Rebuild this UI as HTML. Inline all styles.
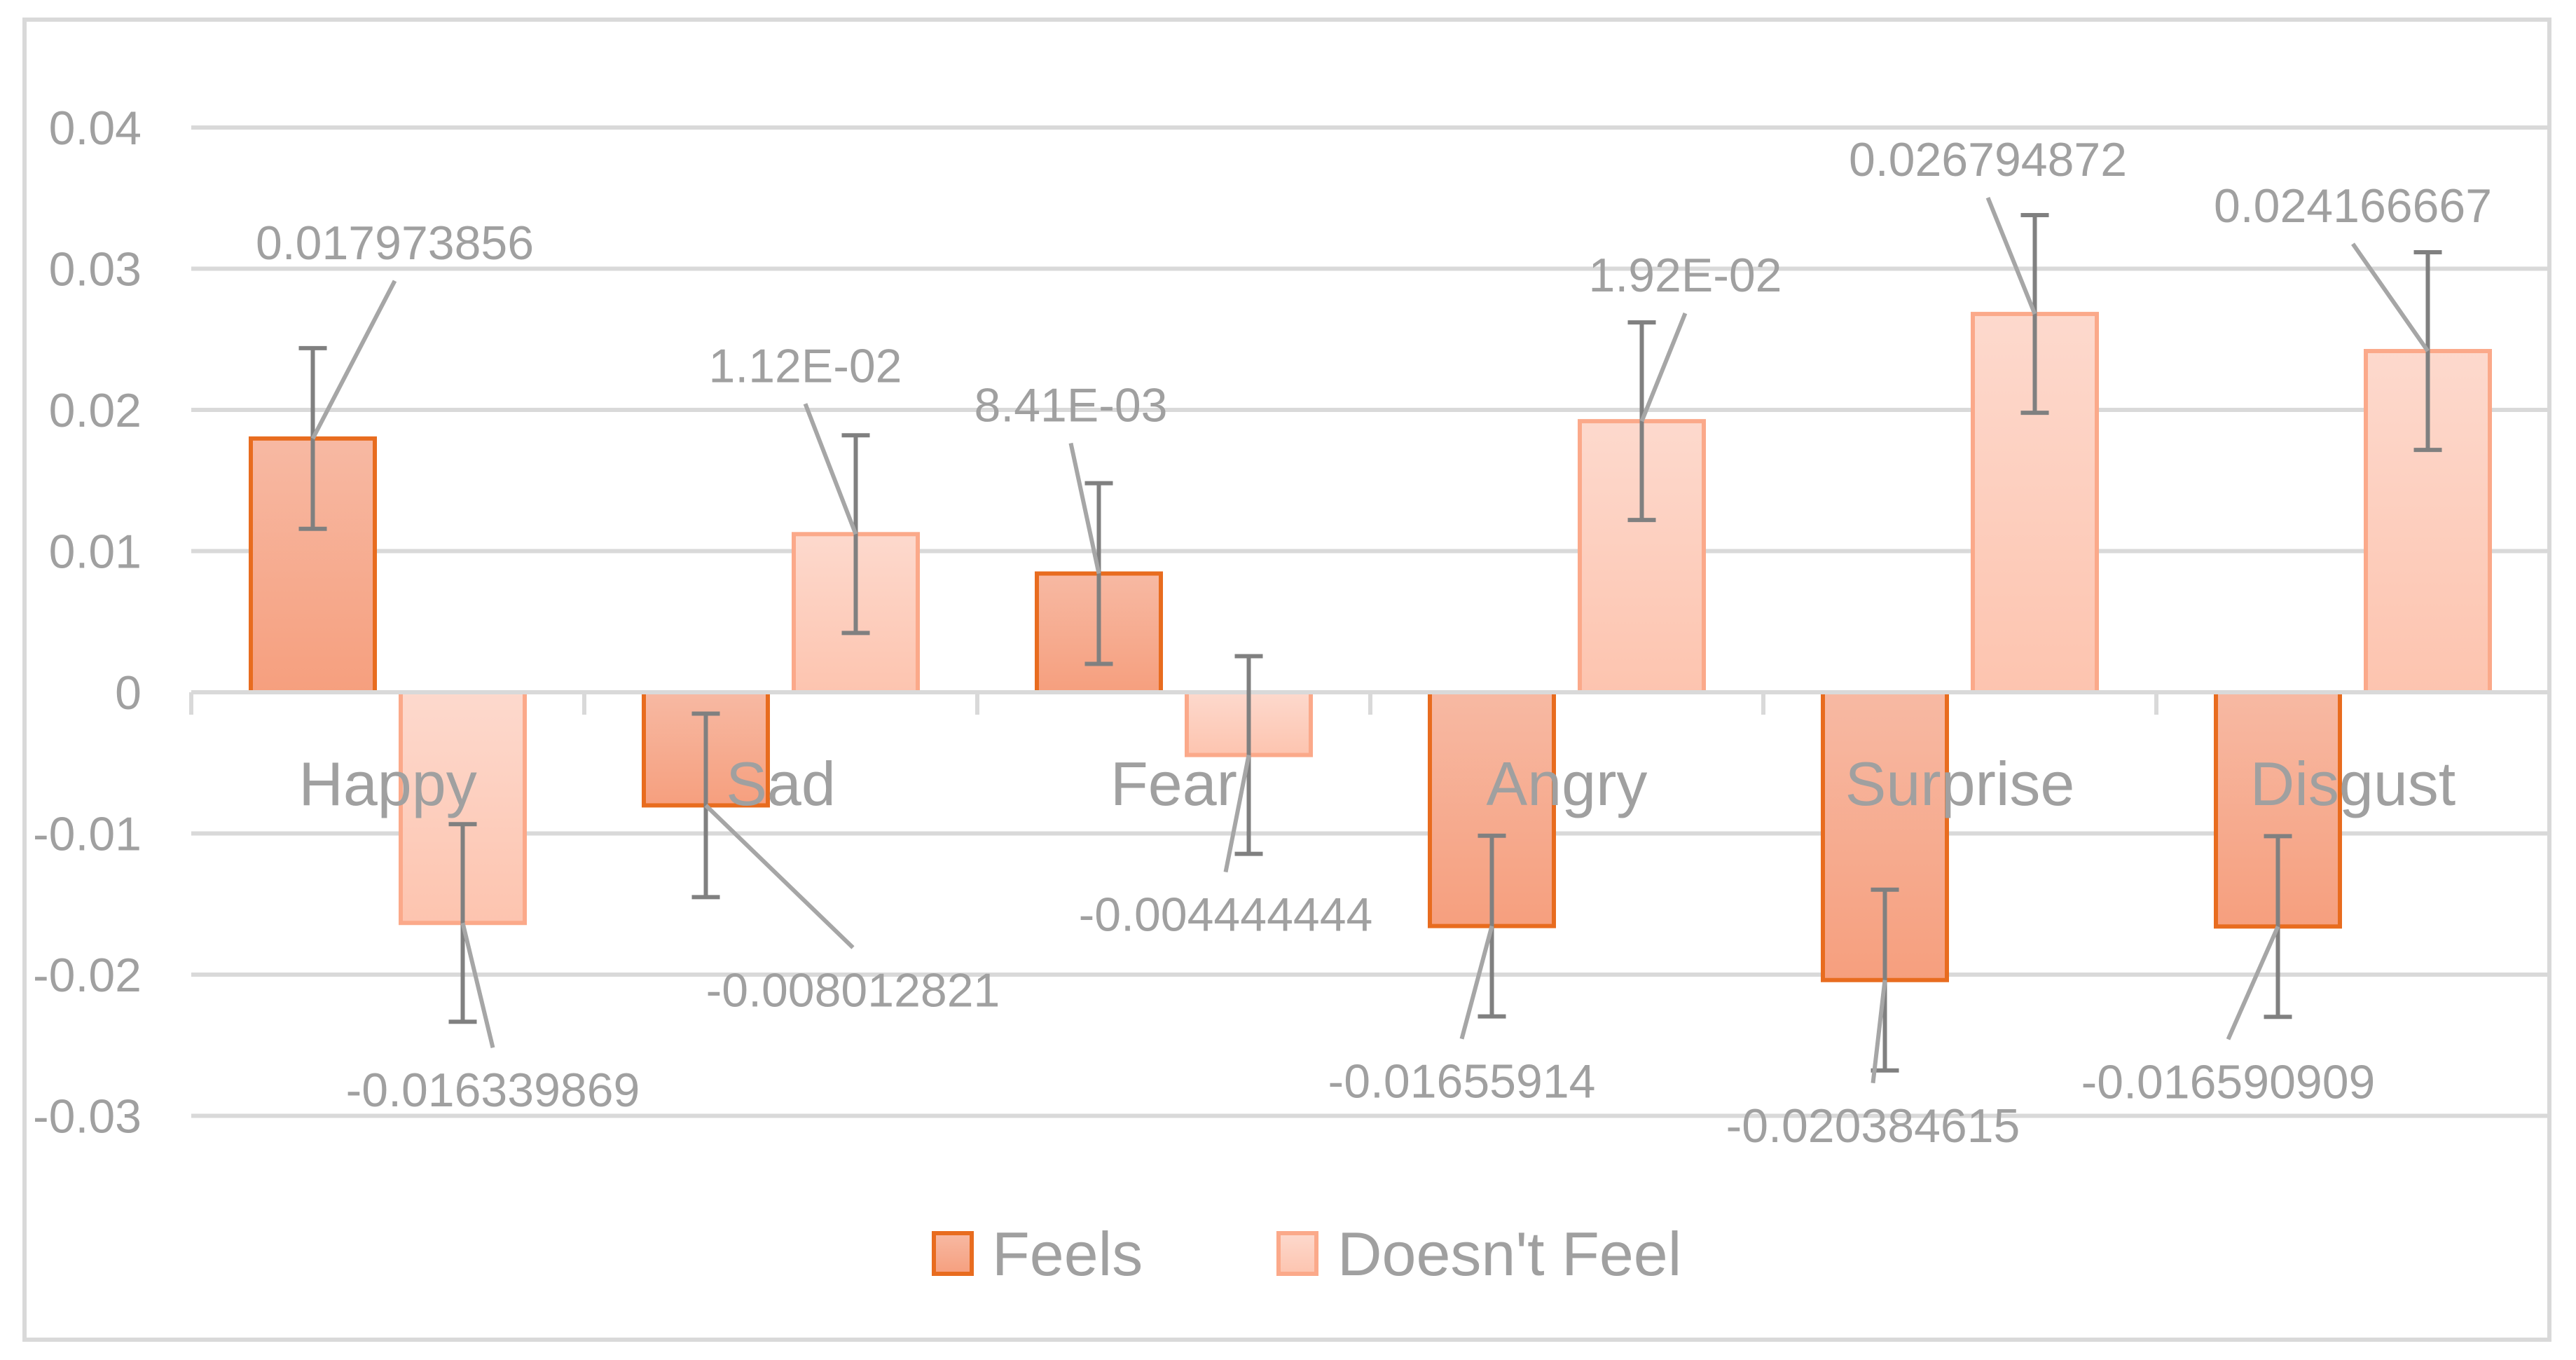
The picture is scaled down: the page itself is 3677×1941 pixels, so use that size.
<!DOCTYPE html>
<html><head><meta charset="utf-8"><style>
html,body{margin:0;padding:0;background:#fff}
svg{display:block}
text{font-family:"Liberation Sans",sans-serif;fill:#a0a0a0}
</style></head><body>
<svg id="chart" width="3677" height="1941" viewBox="0 0 3677 1941" xmlns="http://www.w3.org/2000/svg">
<defs>
<linearGradient id="gFeels" x1="0" y1="0" x2="0" y2="1"><stop offset="0" stop-color="#f7b9a3"/><stop offset="1" stop-color="#f69f7e"/></linearGradient>
<linearGradient id="gDoes" x1="0" y1="0" x2="0" y2="1"><stop offset="0" stop-color="#fdd9cd"/><stop offset="1" stop-color="#fdc4af"/></linearGradient>
</defs>
<rect x="35" y="28" width="3604" height="1884" fill="#fff" stroke="#d9d9d9" stroke-width="6"/>
<g id="grid"></g><g id="bars"></g><g id="errs"></g><g id="labels"></g>
<g>
<rect x="1333" y="1760" width="54" height="58" fill="url(#gFeels)" stroke="#e86c1f" stroke-width="6"/>
<text x="1416" y="1820" font-size="88">Feels</text>
<rect x="1825" y="1760" width="54" height="58" fill="url(#gDoes)" stroke="#fba98a" stroke-width="6"/>
<text x="1909" y="1820" font-size="88">Doesn't Feel</text>
</g>
</svg>
<script>
const categories = ["Happy","Sad","Fear","Angry","Surprise","Disgust"];
const feels = [0.017973856,-0.008012821,0.00841,-0.01655914,-0.020384615,-0.016590909];
const doesntFeel = [-0.016339869,0.0112,-0.004444444,0.0192,0.026794872,0.024166667];
const feelsLabels = ["0.017973856","-0.008012821","8.41E-03","-0.01655914","-0.020384615","-0.016590909"];
const doesntLabels = ["-0.016339869","1.12E-02","-0.004444444","1.92E-02","0.026794872","0.024166667"];
const feelsErr = [0.0064,0.0065,0.0064,0.0064,0.0064,0.0064];
const doesntErr = [0.007,0.007,0.007,0.007,0.007,0.007];
const yTicks = [0.04,0.03,0.02,0.01,0,-0.01,-0.02,-0.03];
const yTickLabels = ["0.04","0.03","0.02","0.01","0","-0.01","-0.02","-0.03"];

const NS="http://www.w3.org/2000/svg";
const X0=273, CW=561, Y0=988, PER=20150;
const y = v => Y0 - v*PER;
const cx = i => X0 + CW*(i+0.5);
function mk(tag, attrs, parent){const e=document.createElementNS(NS,tag);for(const k in attrs)e.setAttribute(k,attrs[k]);parent.appendChild(e);return e;}
const grid=document.getElementById('grid'), bars=document.getElementById('bars'), errs=document.getElementById('errs'), labels=document.getElementById('labels');

yTicks.forEach((t,i)=>{
  if(t!==0){const l=mk('line',{x1:X0,x2:X0+6*CW,y1:y(t),y2:y(t),stroke:'#d9d9d9','stroke-width':6},grid);
  
  }
  const tx=mk('text',{x:202,y:y(t)+24,'font-size':68,'text-anchor':'end'},grid);
  tx.textContent=yTickLabels[i];
  
  
});

const BW=177, OFF=107;
function bar(v,i,sign,fill,stroke,name){
  const x=cx(i)+sign*OFF-BW/2, top=Math.min(y(v),Y0), h=Math.abs(y(v)-Y0);
  const r=mk('rect',{x:x,y:top,width:BW,height:h,fill:fill,stroke:stroke,'stroke-width':6},bars);
  
  
}
function err(v,e,i,sign){
  const x=cx(i)+sign*OFF;
  const g=mk('g',{stroke:'#808080','stroke-width':6},errs);
  
  
  mk('line',{x1:x,x2:x,y1:y(v+e),y2:y(v-e)},g);
  mk('line',{x1:x-20,x2:x+20,y1:y(v+e),y2:y(v+e)},g);
  mk('line',{x1:x-20,x2:x+20,y1:y(v-e),y2:y(v-e)},g);
}
// label offsets relative to bar end (layout, not data)
const feelsLblPos=[[117,-280],[210,263],[-40,-241],[-43,221],[-17,207],[-71,221]];
const doesntLblPos=[[43,238],[-72,-241],[-33,227],[62,-209],[-67,-221],[-107,-208]];
function dlabel(v,i,sign,txt,pos,name){
  const bx=cx(i)+sign*OFF, by=y(v);
  const lx=bx+pos[0], ly=by+pos[1];
  const above = pos[1]<0;
  const ly2 = above ? ly+55 : ly-60;
  const ln=mk('line',{x1:bx,y1:by,x2:lx,y2:ly2,stroke:'#a6a6a6','stroke-width':6},labels);
  
  
  const t=mk('text',{x:lx,y:ly+24,'font-size':68,'text-anchor':'middle'},labels);
  t.textContent=txt;
  
  
}
categories.forEach((c,i)=>{
  bar(feels[i],i,-1,'url(#gFeels)','#e86c1f','bar-feels-'+c.toLowerCase());
  bar(doesntFeel[i],i,1,'url(#gDoes)','#fba98a','bar-doesnt-feel-'+c.toLowerCase());
});
const ax=mk('line',{x1:X0,x2:X0+6*CW,y1:Y0,y2:Y0,stroke:'#d9d9d9','stroke-width':6},bars);


for(let i=0;i<=6;i++){const tk=mk('line',{x1:X0+i*CW,x2:X0+i*CW,y1:Y0,y2:Y0+32,stroke:'#d9d9d9','stroke-width':6},bars);

}
categories.forEach((c,i)=>{
  const t=mk('text',{x:cx(i),y:1149,'font-size':88,'text-anchor':'middle'},bars);
  t.textContent=c;
  
  
});
categories.forEach((c,i)=>{
  err(feels[i],feelsErr[i],i,-1);
  err(doesntFeel[i],doesntErr[i],i,1);
  dlabel(feels[i],i,-1,feelsLabels[i],feelsLblPos[i],'data-label-feels');
  dlabel(doesntFeel[i],i,1,doesntLabels[i],doesntLblPos[i],'data-label-doesnt-feel');
});
</script>
</body></html>
